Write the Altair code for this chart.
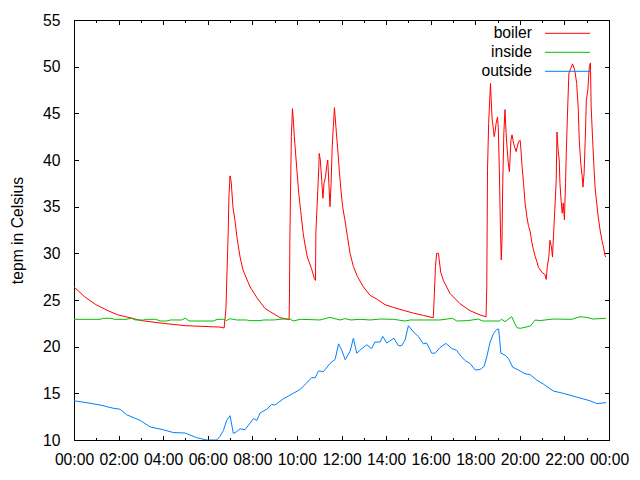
import altair as alt
import pandas as pd

# ---- data (minutes since midnight, temperature in Celsius) ----
boiler_t = [0, 30, 59, 89, 118, 151, 180, 240, 299, 361,
            393, 404, 409, 412, 415, 417, 420, 423, 428, 433,
            439, 447, 455, 474, 493, 514, 528, 555, 579, 580,
            581, 583, 585, 588, 590, 593, 600, 605, 610, 617,
            621, 628, 639, 647, 650, 651, 655, 659, 660, 663,
            667, 670, 673, 677, 680, 683, 686, 689, 692, 695,
            698, 701, 703, 706, 710, 714, 718, 723, 729, 736,
            743, 752, 763, 779, 797, 815, 837, 860, 886, 913,
            940, 967, 970, 973, 976, 981, 983, 987, 994, 1012,
            1039, 1066, 1093, 1109, 1111, 1112, 1113, 1116, 1121, 1123,
            1125, 1129, 1131, 1134, 1136, 1140, 1142, 1145, 1148, 1150,
            1152, 1154, 1157, 1160, 1163, 1166, 1169, 1172, 1176, 1179,
            1183, 1186, 1190, 1193, 1197, 1201, 1203, 1206, 1210, 1214,
            1219, 1223, 1228, 1232, 1236, 1241, 1246, 1250, 1259, 1268,
            1271, 1274, 1278, 1281, 1285, 1288, 1290, 1294, 1298, 1300,
            1303, 1306, 1308, 1311, 1314, 1317, 1320, 1323, 1325, 1328,
            1332, 1337, 1342, 1348, 1353, 1357, 1360, 1364, 1368, 1370,
            1373, 1376, 1379, 1383, 1387, 1390, 1392, 1396, 1400, 1403,
            1407, 1411, 1416, 1421, 1425, 1429, 1431]
boiler_v = [26.4, 25.3, 24.5, 23.9, 23.4, 23.1, 22.8, 22.5, 22.25, 22.15,
            22.1, 22.0, 24.1, 28.2, 32.2, 36.1, 38.3, 37.7, 34.9, 33.6,
            31.6, 29.6, 28.2, 26.4, 25.2, 24.1, 23.75, 23.1, 22.9, 25.7,
            31.4, 37.1, 42.5, 45.5, 44.5, 42.5, 38.9, 36.4, 34.6, 32.1,
            31.1, 29.6, 28.4, 27.3, 27.1, 32.2, 35.7, 39.3, 40.7, 40.0,
            37.7, 35.9, 37.5, 38.2, 39.3, 40.0, 37.5, 35.0, 37.5, 41.4,
            43.6, 45.6, 44.6, 43.0, 41.1, 38.9, 37.0, 35.0, 33.6, 31.8,
            30.0, 28.6, 27.5, 26.4, 25.5, 25.1, 24.5, 24.2, 23.9, 23.6,
            23.35, 23.1, 25.7, 28.6, 30.0, 30.0, 29.3, 28.0, 27.1, 25.7,
            24.6, 23.85, 23.4, 23.2, 26.4, 32.5, 38.9, 43.9, 48.2, 46.4,
            44.6, 43.2, 42.5, 43.2, 43.9, 44.6, 43.5, 38.6, 32.2, 29.3,
            31.4, 37.5, 42.9, 45.4, 42.9, 41.1, 39.6, 38.75, 42.1, 42.7,
            41.8, 41.4, 40.9, 41.4, 42.0, 42.1, 41.1, 39.3, 37.5, 35.4,
            33.9, 33.0, 32.3, 31.25, 30.5, 29.7, 29.1, 28.5, 28.0, 27.7,
            27.2, 28.6, 29.6, 31.4, 30.7, 29.6, 31.4, 34.6, 37.9, 43.0,
            41.1, 40.0, 37.5, 35.7, 34.3, 35.4, 33.6, 37.5, 40.7, 44.6,
            49.3, 49.8, 50.3, 49.6, 48.2, 45.7, 42.1, 39.6, 38.2, 37.1,
            38.6, 42.1, 46.4, 47.5, 50.0, 50.4, 45.7, 42.1, 38.9, 36.8,
            35.4, 33.9, 32.5, 31.4, 30.7, 29.8, 29.6]

inside_t = [0, 70, 80, 97, 110, 140, 155, 165, 187, 195,
            220, 232, 250, 259, 277, 290, 299, 310, 375, 385,
            402, 411, 420, 438, 464, 474, 501, 510, 537, 563,
            582, 590, 609, 635, 662, 689, 716, 730, 745, 770,
            797, 825, 860, 891, 905, 950, 985, 1019, 1030, 1060,
            1088, 1100, 1145, 1151, 1160, 1178, 1192, 1201, 1228, 1241,
            1255, 1290, 1340, 1362, 1380, 1397, 1432]
inside_v = [22.93, 22.93, 23.04, 23.04, 22.93, 22.93, 23.04, 22.86, 22.86, 22.93,
            22.93, 22.75, 22.75, 22.86, 22.86, 22.86, 23.07, 22.75, 22.75, 22.93,
            22.93, 22.8, 23.0, 22.86, 22.86, 22.79, 22.79, 22.86, 22.86, 22.96,
            22.96, 22.75, 22.93, 22.9, 22.86, 23.14, 22.86, 23.0, 22.86, 22.93,
            22.86, 22.96, 22.93, 22.75, 22.86, 22.86, 22.86, 23.04, 22.75, 22.79,
            22.96, 22.75, 22.75, 22.93, 22.68, 23.21, 22.04, 21.96, 22.21, 22.85,
            22.8, 22.96, 22.93, 23.21, 23.14, 22.96, 23.04]

outside_t = [0, 34, 70, 106, 124, 142, 178, 205, 240, 267,
             299, 330, 357, 384, 393, 402, 411, 420, 429, 438,
             447, 460, 474, 483, 492, 501, 519, 532, 541, 563,
             590, 608, 626, 640, 649, 658, 662, 671, 689, 703,
             712, 721, 730, 743, 752, 761, 775, 788, 801, 810,
             824, 831, 842, 861, 873, 882, 891, 900, 913, 927,
             940, 949, 963, 972, 985, 1001, 1017, 1030, 1039, 1053,
             1066, 1080, 1093, 1104, 1111, 1120, 1129, 1138, 1143, 1149,
             1160, 1169, 1181, 1196, 1214, 1228, 1246, 1263, 1290, 1317,
             1344, 1371, 1389, 1407, 1432]
outside_v = [14.2, 14.0, 13.75, 13.4, 13.3, 12.7, 12.1, 11.4, 11.1, 10.8,
             10.75, 10.25, 10.0, 10.0, 10.4, 11.0, 12.1, 12.6, 10.7, 10.9,
             11.2, 11.1, 11.8, 12.3, 12.1, 12.9, 13.3, 13.8, 13.75, 14.4,
             15.0, 15.4, 16.1, 16.7, 16.65, 17.4, 17.4, 17.3, 18.2, 18.65,
             20.3, 19.6, 18.6, 19.5, 20.9, 19.3, 19.8, 20.2, 19.8, 20.5,
             20.5, 21.1, 20.4, 20.9, 20.1, 20.1, 20.7, 22.25, 21.6, 21.1,
             20.3, 20.4, 19.3, 19.3, 19.9, 20.35, 19.8, 19.6, 19.1, 18.5,
             18.2, 17.5, 17.55, 17.9, 18.9, 20.5, 21.4, 21.85, 21.9, 19.3,
             19.1, 18.75, 17.8, 17.5, 17.1, 17.0, 16.4, 16.0, 15.25, 15.0,
             14.7, 14.4, 14.2, 13.9, 14.0]

series_names = ["boiler", "inside", "outside"]
series_colors = ["#ff0000", "#00c000", "#0080ff"]
x_ticks = list(range(0, 25))        # hours
y_ticks = list(range(10, 56, 5))    # Celsius

rows = []
for name, ts, vs in zip(series_names, [boiler_t, inside_t, outside_t],
                        [boiler_v, inside_v, outside_v]):
    assert len(ts) == len(vs), name
    for t, v in zip(ts, vs):
        rows.append({"series": name, "hour": t / 60.0, "temp": v})
df = pd.DataFrame(rows)
legend_df = pd.DataFrame({"series": series_names})

FONT = "Liberation Sans"
FS = 15.7
TICK = 4.5
minor_dash = {"condition": {"test": "datum.value % 2 == 1", "value": [0, 2, 2.5, 10]},
              "value": [10, 0]}

xscale = alt.Scale(domain=[0, 24], nice=False, zero=False)
yscale = alt.Scale(domain=[10, 55], nice=False, zero=False)
cscale = alt.Scale(domain=series_names, range=series_colors)

label_expr = ("datum.value % 2 == 0 ? ((datum.value % 24) < 10 ? '0' : '') + "
              "(datum.value % 24) + ':00' : ''")

lines = alt.Chart(df).mark_line(strokeWidth=1, clip=True).encode(
    x=alt.X("hour:Q", scale=xscale,
            axis=alt.Axis(orient="bottom", values=x_ticks, labelExpr=label_expr,
                          offset=-TICK, domain=False, grid=False, tickSize=TICK,
                          tickColor="black", tickWidth=1, tickDash=minor_dash,
                          labelPadding=12, labelFlush=False, labelOverlap=False,
                          labelFont=FONT, labelFontSize=FS, labelColor="black",
                          title=None)),
    y=alt.Y("temp:Q", scale=yscale,
            axis=alt.Axis(orient="left", values=y_ticks, offset=-TICK, domain=False,
                          grid=False, tickSize=TICK, tickColor="black", tickWidth=1,
                          labelPadding=14, labelFont=FONT, labelFontSize=FS,
                          labelColor="black", labelOverlap=False, labelFlush=False,
                          title="tepm in Celsius", titleFont=FONT, titleFontSize=FS,
                          titleFontWeight="normal", titleColor="black",
                          titlePadding=17)),
    color=alt.Color("series:N", scale=cscale, legend=None),
)

mirror = alt.Chart(df).mark_point(opacity=0).encode(
    x=alt.X("hour:Q", scale=xscale,
            axis=alt.Axis(orient="top", values=x_ticks, labels=False, offset=-TICK,
                          domain=False, grid=False, tickSize=TICK, tickColor="black",
                          tickWidth=1, tickDash=minor_dash, title=None)),
    y=alt.Y("temp:Q", scale=yscale,
            axis=alt.Axis(orient="right", values=y_ticks, labels=False, offset=-TICK,
                          domain=False, grid=False, tickSize=TICK, tickColor="black",
                          tickWidth=1, title=None)),
)

# key (gnuplot style: text on the left, line sample on the right)
key_y = alt.Y("series:N", axis=None,
              scale=alt.Scale(type="point", domain=series_names,
                              range=[13.3, 51.3], padding=0))
key_text = alt.Chart(legend_df).mark_text(
    align="right", baseline="middle", font=FONT, fontSize=FS, color="black"
).encode(x=alt.value(458), y=key_y, text="series:N")
key_line = alt.Chart(legend_df).mark_rule(strokeWidth=1).encode(
    x=alt.value(471), x2=alt.value(516), y=key_y,
    color=alt.Color("series:N", scale=cscale, legend=None),
)

chart = alt.layer(lines, mirror, key_text, key_line).resolve_axis(
    x="independent", y="independent"
).resolve_scale(y="independent").properties(
    width=535, height=420,
    autosize=alt.AutoSizeParams(type="none"),
    padding={"left": 66, "top": 12, "right": 23, "bottom": 32},
    background="white",
).configure_view(stroke="black", strokeWidth=1)

chart.save("out.html", embed_options={"renderer": "svg", "actions": False})
